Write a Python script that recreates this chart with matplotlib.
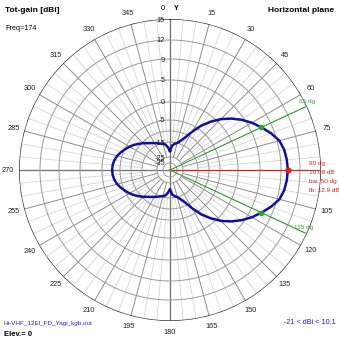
import numpy as np
import matplotlib
matplotlib.use('Agg')
import matplotlib.pyplot as plt

plt.rcParams['font.family'] = ['Liberation Sans', 'DejaVu Sans']

# azimuth (deg, compass) and total gain (dBi) of the horizontal pattern
azimuth = list(range(0, 361, 5))
gain_dbi = [
    -21.0, -17.3, -16.0, -15.0, -13.6, -11.4, -7.7, -3.9, -1.4, 0.9,
    2.73, 4.43, 5.86, 7.08, 8.33, 9.36, 9.79, 9.99, 10.08, 9.99,
    9.79, 9.36, 8.33, 7.08, 5.86, 4.43, 2.73, 0.9, -1.4, -3.9,
    -7.7, -11.4, -13.6, -15.0, -16.0, -17.3, -21.0, -18.5, -16.5, -15.6,
    -15.0, -14.3, -13.6, -12.8, -11.8, -10.5, -9.2, -7.8, -6.5, -5.3,
    -4.4, -3.7, -3.2, -2.9, -2.82, -2.9, -3.2, -3.7, -4.4, -5.3,
    -6.5, -7.8, -9.2, -10.5, -11.8, -12.8, -13.6, -14.3, -15.0, -15.6,
    -16.5, -18.5, -21.0,
]

# dB rings and where they sit on the plot (radius in px)
ring_db = [-35, -25, -15, -10, -5, 0, 5, 9, 12, 15]
ring_px = [7, 13, 28, 39, 50, 68, 90, 111, 130, 151]
ring_labels = {-35: '-35', -25: '-25', -15: '-15', -5: '-5', 0: '0',
               5: '5', 9: '9', 12: '12', 15: '15'}

max_az, max_gain = 90, 10.08
bw_left, bw_right = 65, 115
bw_gain = 7.08

W = 339
R = 151
cx, cy = 170, 170


def rad(db):
    return np.interp(db, ring_db, ring_px)


def px(x, y):
    return x / W, 1 - y / W


fig = plt.figure(figsize=(W / 100, W / 100), dpi=100)
fig.patch.set_facecolor('white')
ax = fig.add_axes([(cx - R) / W, (W - cy - R) / W, 2 * R / W, 2 * R / W],
                  projection='polar')
ax.set_theta_zero_location('N')
ax.set_theta_direction(-1)
ax.set_ylim(0, R)
ax.axis('off')

# spokes: fine every 5 deg, stronger every 15 deg
for a in range(0, 360, 5):
    t = np.deg2rad(a)
    if a % 90 == 0:
        continue
    if a % 15 == 0:
        ax.plot([t, t], [rad(-25), R], color='#8c8c8c', lw=0.7, zorder=1)
    else:
        ax.plot([t, t], [rad(-15), R], color='#d6d6d6', lw=0.6, zorder=0)

# main axes through the center
for a in (0, 90, 180, 270):
    t = np.deg2rad(a)
    ax.plot([t, t], [0, R], color='#707070', lw=0.9, zorder=2)

# dB rings
th = np.linspace(0, 2 * np.pi, 721)
for db in ring_db:
    if db == 15:
        ax.plot(th, np.full_like(th, R), color='#303030', lw=1.0, zorder=3)
    else:
        ax.plot(th, np.full_like(th, rad(db)), color='#9a9a9a', lw=0.7, zorder=2)

for db, lab in ring_labels.items():
    fig.text(*px(165, cy - rad(db) + 1), lab, ha='right', va='center',
             fontsize=5.3, color='#202020', zorder=6)

# angle labels around the circle
for a in range(15, 360, 15):
    if a == 90:
        continue
    ax.text(np.deg2rad(a), 162, str(a), ha='center', va='center',
            fontsize=5.3, color='#202020', clip_on=False)
fig.text(*px(163, 8), '0', ha='center', va='center', fontsize=5.3)
fig.text(*px(176, 9), 'Y', ha='center', va='center', fontsize=5.3,
         fontweight='bold')

# max direction and beamwidth markers
ax.plot([np.deg2rad(max_az)] * 2, [0, 138], color='#e02020', lw=0.8,
        zorder=4, clip_on=False)
for a in (bw_left, bw_right):
    ax.plot([np.deg2rad(a)] * 2, [0, 149], color='#30a030', lw=0.8,
            zorder=4, clip_on=False)

# radiation pattern
ax.plot(np.deg2rad(azimuth), rad(np.array(gain_dbi)), color='#10109a',
        lw=1.8, zorder=5)
ax.plot(np.deg2rad(max_az), rad(max_gain), 'o', ms=3.5, color='#e02020',
        zorder=6)
for a in (bw_left, bw_right):
    ax.plot(np.deg2rad(a), rad(bw_gain), 'o', ms=3, color='#30a030', zorder=6)

# annotations
fig.text(*px(299, 101), '65 dg', fontsize=4.6, color='#30a030',
         va='center')
fig.text(*px(294, 228), '115 dg', fontsize=4.6, color='#30a030',
         va='center')
red_lines = ['90 dg', '10.08 dB', 'bw: 50 dg', 'fb: 12.9 dB']
for i, s in enumerate(red_lines):
    fig.text(*px(309, 163 + 9 * i), s, fontsize=4.6, color='#e02020',
             va='center')

fig.text(*px(5, 10), 'Tot-gain [dBi]', fontsize=6, fontweight='bold',
         va='center')
fig.text(*px(5, 28), 'Freq=174', fontsize=5.2, va='center')
fig.text(*px(334, 10), 'Horizontal plane', fontsize=6, fontweight='bold',
         va='center', ha='right')
fig.text(*px(4, 323), 'Hi-VHF_12El_FD_Yagi_kgb.out', fontsize=4.6,
         color='#2020c0', va='center')
fig.text(*px(4, 334), 'Elev.= 0', fontsize=5.5, fontweight='bold',
         va='center')
fig.text(*px(336, 323), '-21 < dBi < 10.1', fontsize=5.2, color='#2020c0',
         va='center', ha='right')

fig.savefig('out.png', dpi=100, facecolor='white')
